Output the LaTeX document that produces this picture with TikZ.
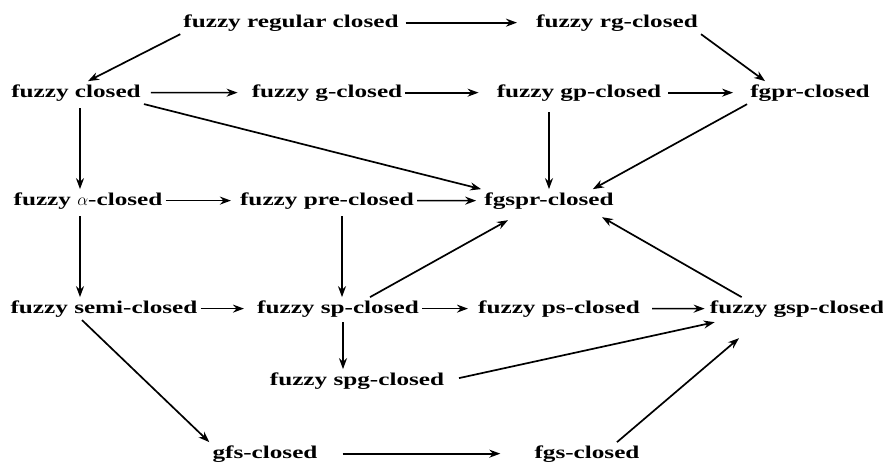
\documentclass[tikz,border=0pt]{standalone}
\usepackage{amsmath}
\usepackage{fontspec}
\setmainfont{Liberation Serif}[FakeStretch=1.4]
\usetikzlibrary{arrows.meta}

\begin{document}
\begin{tikzpicture}[x=1pt, y=-1pt,
                textnode/.style={anchor=base, inner sep=3pt, font=\fontsize{18}{20}\selectfont\bfseries},
                implies/.style={-{Stealth[length=11pt, width=8pt]}, line width=1.7pt},
            ]
            \useasboundingbox (0,0) rectangle (883,461);
            % Nodes
            \node[textnode]  (fz_regular)  at (291,27)   {fuzzy regular closed};
            \node[textnode]  (fz_rg)       at (617,27)   {fuzzy rg-closed};

            \node[textnode]  (fz_closed)   at (76,97)    {fuzzy closed};
            \node[textnode]  (fz_g)        at (327,97)   {fuzzy g-closed};
            \node[textnode]  (fz_gp)       at (579,97)   {fuzzy gp-closed};
            \node[textnode]  (fgpr)        at (810,97)   {fgpr-closed};

            \node[textnode]  (fz_alpha)    at (88,205)   {fuzzy $\alpha$-closed};
            \node[textnode]  (fz_pre)      at (327,205)  {fuzzy pre-closed};
            \node[textnode]  (fgspr)       at (549,205)  {fgspr-closed};

            \node[textnode]  (fz_semi)     at (104,313)  {fuzzy semi-closed};
            \node[textnode]  (fz_sp)       at (338,313)  {fuzzy sp-closed};
            \node[textnode]  (fz_ps)       at (559,313)  {fuzzy ps-closed};
            \node[textnode]  (fz_gsp)      at (797,313)  {fuzzy gsp-closed};

            \node[textnode]  (fz_spg)      at (357,385)  {fuzzy spg-closed};

            \node[textnode]  (gfs)         at (265,458)  {gfs-closed};
            \node[textnode]  (fgs)         at (587,458)  {fgs-closed};

            %Lines
            \draw[implies, shorten <=4pt, shorten >=16pt] (fz_regular.east) -- (fz_rg.west);
            \draw[implies] (fz_regular.south west) -- ([xshift=12pt]fz_closed.north);
            \draw[implies] (fz_rg.south east) -- ([xshift=18pt]fgpr.north west);

            \draw[implies, shorten <=7pt, shorten >=11pt] (fz_closed.east) -- (fz_g.west);
            \draw[implies, shorten >=15pt] (fz_g.east) -- (fz_gp.west);
            \draw[implies, shorten <=4pt, shorten >=14pt] (fz_gp.east) -- (fgpr.west);
            \draw[implies] (fz_closed.south east) -- (fgspr.north west);
            \draw[implies, shorten <=8pt] (fz_gp.south -| fgspr.north) -- (fgspr.north);
            \draw[implies] (fgpr.south west) -- ([xshift=-24pt]fgspr.north east);
            \draw[implies, shorten <=4pt] ([xshift=4pt]fz_closed.south) -- ([xshift=-8pt]fz_alpha.north);

            \draw[implies, shorten >=6pt] (fz_alpha.east) -- (fz_pre.west);
            \draw[implies, shorten >=5pt] (fz_pre.east) -- (fgspr.west);
            \draw[implies, shorten <=4pt] ([xshift=-8pt]fz_alpha.south) -- ([xshift=-24pt]fz_semi.north);
            \draw[implies, shorten <=4pt] ([xshift=15pt]fz_pre.south) -- ([xshift=4pt]fz_sp.north);

            \draw[implies] ([xshift=32pt]fz_sp.north) -- ([xshift=-41pt, yshift=-8pt]fgspr.south);
            \draw[implies] ([xshift=35pt]fz_gsp.north west) -- ([xshift=53pt, yshift=-5pt]fgspr.south);

            \draw[implies, shorten >=10pt] (fz_semi.east) -- (fz_sp.west);
            \draw[implies, shorten >=7pt] (fz_sp.east) -- (fz_ps.west);
            \draw[implies, shorten <=9pt, shorten >=2pt] (fz_ps.east) -- (fz_gsp.west);
            \draw[implies, shorten <=2pt] ([xshift=5pt]fz_sp.south) -- ([xshift=-14pt]fz_spg.north);
            \draw[implies, shorten <=12pt] (fz_spg.east) -- ([xshift=8pt, yshift=-2pt]fz_gsp.south west);

            \draw[implies] ([xshift=-22pt]fz_semi.south) -- (gfs.north west);
            \draw[implies, shorten <=22pt, shorten >=31pt] (gfs.east) -- (fgs.west);
            \draw[implies] ([xshift=30pt]fgs.north) -- ([xshift=-58pt, yshift=-18pt]fz_gsp.south);
        \end{tikzpicture}
\end{document}
